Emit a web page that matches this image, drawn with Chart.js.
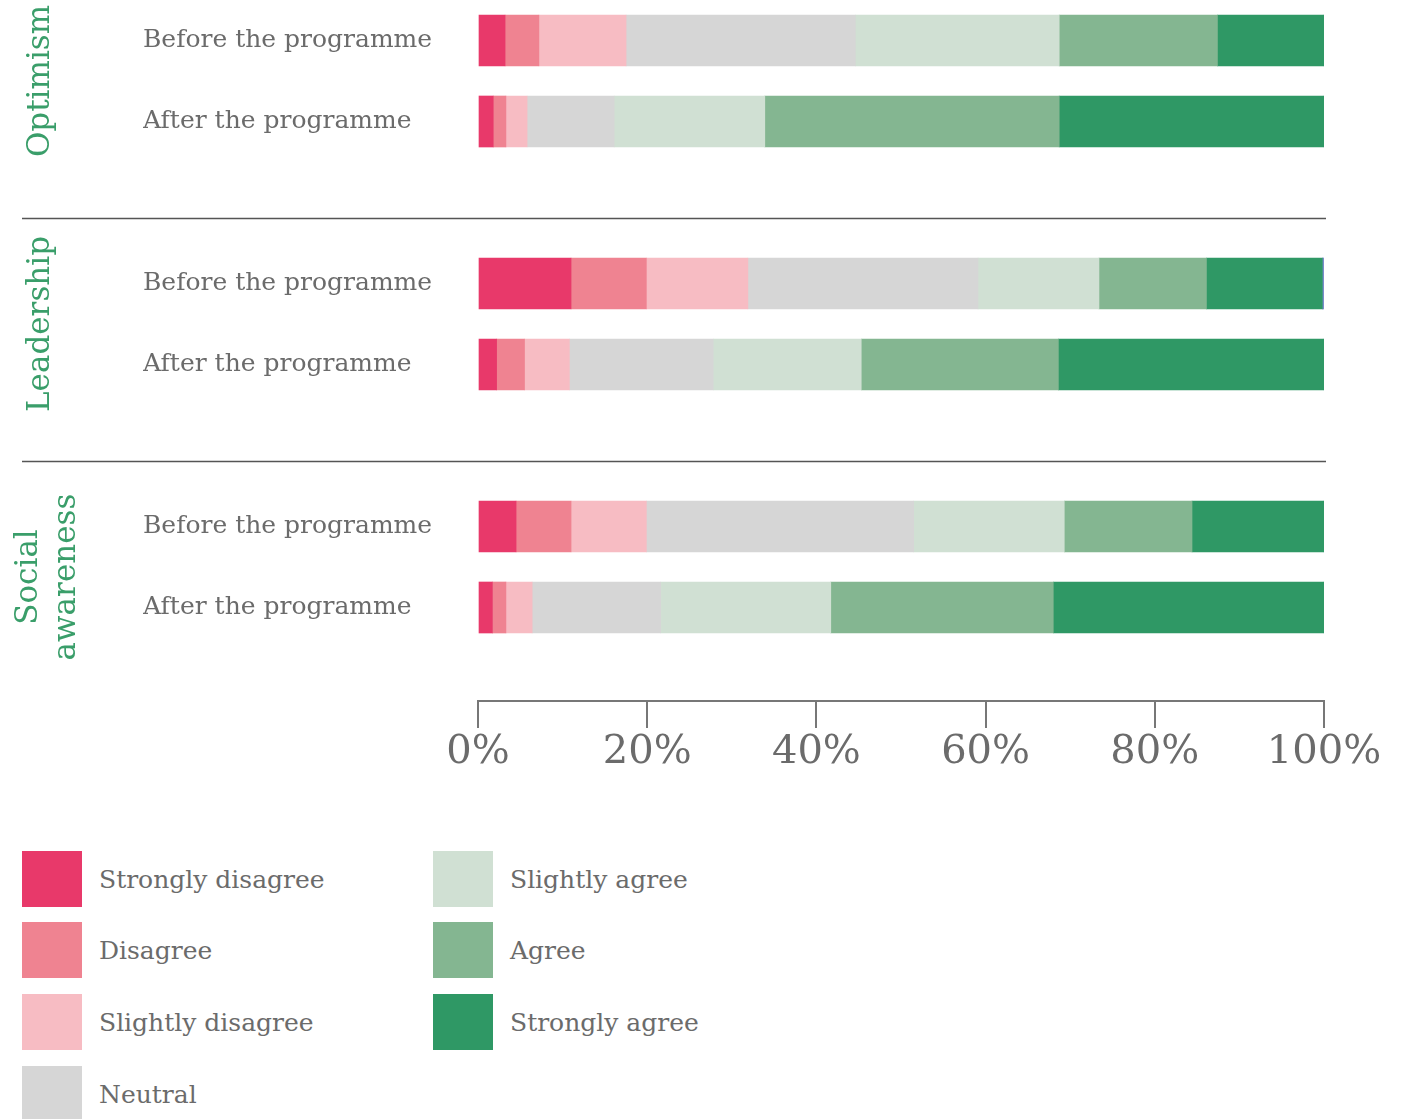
<!DOCTYPE html>
<html>
<head>
<meta charset="utf-8">
<script src="https://cdn.jsdelivr.net/npm/chart.js@4/dist/chart.umd.min.js"></script>
<style>
  body { margin: 0; background: #fff; font-family: 'DejaVu Serif', serif; }
  #wrap { position: relative; width: 1411px; height: 1119px; }
  #chart { position: absolute; left: 0; top: 0; }
  .leg { position: absolute; display: flex; align-items: center; color: #6b6b6b; font-size: 25px; }
  .leg span.sw { display: inline-block; width: 60px; height: 56px; margin-right: 17px; }
</style>
</head>
<body>
<div id="wrap">
  <canvas id="chart" width="1411" height="800"></canvas>
</div>
<script>
// # Before/after survey responses, 100% stacked bars

const rowLabels = ['Before the programme', 'After the programme', '',
                   'Before the programme', 'After the programme', '',
                   'Before the programme', 'After the programme'];
const groups = [['Optimism'], ['Leadership'], ['Social', 'awareness']];
const xTicks = [0, 20, 40, 60, 80, 100];

const responses = ['Strongly disagree', 'Disagree', 'Slightly disagree', 'Neutral',
                   'Slightly agree', 'Agree', 'Strongly agree'];
const colours = ['#e8396a', '#ef8391', '#f7bcc3', '#d6d6d6', '#d0e0d3', '#84b691', '#2f9865'];

// values per bar: Opt before, Opt after, Lead before, Lead after, Soc before, Soc after
const stronglyDisagree = [3.2, 1.8, 11.0, 2.2, 4.5, 1.7];
const disagree         = [4.0, 1.5, 8.9, 3.3, 6.5, 1.6];
const slightlyDisagree = [10.3, 2.5, 12.0, 5.3, 8.9, 3.1];
const neutral          = [27.1, 10.3, 27.2, 17.0, 31.6, 15.2];
const slightlyAgree    = [24.1, 17.8, 14.3, 17.5, 17.8, 20.1];
const agree            = [18.7, 34.8, 12.7, 23.3, 15.1, 26.3];
const stronglyAgree    = [12.6, 31.3, 13.7, 31.4, 15.6, 32.0];
const noAnswer         = [0, 0, 0.25, 0, 0, 0];

const series = [stronglyDisagree, disagree, slightlyDisagree, neutral,
                slightlyAgree, agree, stronglyAgree];

// spread 6 bars over 8 rows (empty spacer rows between groups)
function toRows(vals) {
    return [vals[0], vals[1], null, vals[2], vals[3], null, vals[4], vals[5]];
}

const datasets = series.map((vals, i) => ({
    label: responses[i],
    data: toRows(vals),
    backgroundColor: colours[i],
    barThickness: 51
}));
datasets.push({ label: 'No answer', data: toRows(noAnswer), backgroundColor: '#7b8ccc', barThickness: 51 });

const textGrey = '#6b6b6b';
const serif = "'DejaVu Serif', serif";

// group titles and divider lines on the left
const groupPlugin = {
    id: 'groups',
    afterDraw(c) {
        const ctx = c.ctx;
        const y = c.scales.y;
        ctx.save();
        ctx.strokeStyle = '#555';
        ctx.lineWidth = 1.5;
        [2, 5].forEach(idx => {
            const py = Math.round(y.getPixelForValue(idx) + 15) + 0.5;
            ctx.beginPath();
            ctx.moveTo(22, py);
            ctx.lineTo(c.chartArea.right + 2, py);
            ctx.stroke();
        });
        ctx.fillStyle = '#3a9e6a';
        ctx.font = '31px ' + serif;
        ctx.textAlign = 'center';
        ctx.textBaseline = 'middle';
        groups.forEach((lines, g) => {
            const cy = (y.getPixelForValue(g * 3) + y.getPixelForValue(g * 3 + 1)) / 2 + (lines.length > 1 ? 10 : 0);
            const cx = lines.length > 1 ? 48 : 41;
            ctx.save();
            ctx.translate(cx, cy);
            ctx.rotate(-Math.PI / 2);
            lines.forEach((t, k) => {
                ctx.fillText(t, 0, (k - (lines.length - 1) / 2) * 38);
            });
            ctx.restore();
        });
        ctx.restore();
    }
};

const ctx = document.getElementById('chart').getContext('2d');
let chart = new Chart(ctx, {
    type: 'bar',
    data: { labels: rowLabels, datasets: datasets },
    options: {
        indexAxis: 'y',
        responsive: false,
        animation: false,
        devicePixelRatio: 1,
        layout: { padding: { left: 143, right: 87, top: 0, bottom: 152 } },
        plugins: { legend: { display: false }, tooltip: { enabled: false } },
        scales: {
            x: {
                stacked: true,
                min: 0,
                max: 100,
                position: { y: 8.15 },
                afterBuildTicks: (s) => { s.ticks = xTicks.map(v => ({ value: v })); },
                ticks: {
                    callback: (v) => v + '%',
                    color: textGrey,
                    font: { family: serif, size: 40 },
                    padding: 2,
                    maxRotation: 0
                },
                grid: { drawOnChartArea: false, tickLength: 26, color: '#777', lineWidth: 2 },
                border: { display: true, color: '#777', width: 2 }
            },
            y: {
                stacked: true,
                afterFit: (s) => { s.width = 335; s.paddingTop = 0; s.paddingBottom = 0; },
                ticks: {
                    crossAlign: 'far',
                    color: textGrey,
                    font: { family: serif, size: 25 }
                },
                grid: { display: false },
                border: { display: false }
            }
        }
    },
    plugins: [groupPlugin]
});

// legend in two columns under the chart
const wrap = document.getElementById('wrap');
const legendRows = [851, 922, 994, 1066];
responses.forEach((name, i) => {
    const col = i < 4 ? 0 : 1;
    const row = i < 4 ? i : i - 4;
    const el = document.createElement('div');
    el.className = 'leg';
    el.style.left = (col ? 433 : 22) + 'px';
    el.style.top = legendRows[row] + 'px';
    el.innerHTML = '<span class="sw" style="background:' + colours[i] + '"></span>' + name;
    wrap.appendChild(el);
});
</script>
</body>
</html>
